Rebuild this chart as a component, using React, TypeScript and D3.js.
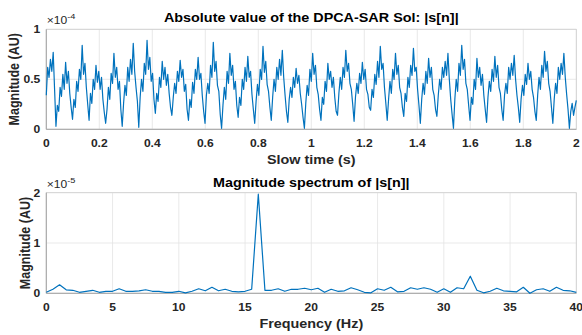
import React from "react";
import * as d3 from "d3";

// |s[n]| in units of 1e-4, 385 samples over 2 s
const signalValues: number[] = [
  0.34, 0.62, 0.52, 0.70, 0.58, 0.77, 0.40,
  0.03, 0.24, 0.18, 0.42, 0.33, 0.55, 0.40, 0.67, 0.46, 0.58, 0.36, 0.22,
  0.10, 0.30, 0.22, 0.48, 0.38, 0.60, 0.50, 0.84, 0.55, 0.66, 0.42, 0.25,
  0.09, 0.36, 0.26, 0.50, 0.40, 0.64, 0.47, 0.58, 0.40, 0.52, 0.30, 0.17,
  0.06, 0.20, 0.42, 0.30, 0.56, 0.46, 0.76, 0.52, 0.62, 0.40, 0.48, 0.20,
  0.03, 0.26, 0.44, 0.34, 0.62, 0.48, 0.70, 0.55, 0.86, 0.58, 0.42, 0.28,
  0.02, 0.32, 0.50, 0.38, 0.66, 0.55, 0.89, 0.60, 0.72, 0.48, 0.56, 0.30,
  0.16, 0.36, 0.28, 0.52, 0.42, 0.68, 0.50, 0.62, 0.44, 0.55, 0.36, 0.22,
  0.14, 0.32, 0.46, 0.36, 0.58, 0.48, 0.69, 0.52, 0.60, 0.38, 0.45, 0.20,
  0.09, 0.30, 0.22, 0.47, 0.36, 0.60, 0.50, 0.72, 0.50, 0.56, 0.34, 0.18,
  0.06, 0.34, 0.46, 0.36, 0.64, 0.52, 0.87, 0.58, 0.68, 0.44, 0.38, 0.15,
  0.01, 0.24, 0.42, 0.30, 0.58, 0.46, 0.76, 0.54, 0.64, 0.40, 0.48, 0.24,
  0.12, 0.32, 0.24, 0.50, 0.40, 0.62, 0.48, 0.73, 0.52, 0.58, 0.35, 0.20,
  0.06, 0.28, 0.45, 0.34, 0.60, 0.50, 0.83, 0.57, 0.68, 0.45, 0.38, 0.22,
  0.09, 0.32, 0.50, 0.38, 0.62, 0.50, 0.70, 0.54, 0.79, 0.52, 0.34, 0.18,
  0.07, 0.30, 0.42, 0.32, 0.52, 0.42, 0.61, 0.46, 0.54, 0.36, 0.25, 0.12,
  0.01, 0.26, 0.44, 0.34, 0.60, 0.48, 0.76, 0.55, 0.64, 0.42, 0.35, 0.20,
  0.09, 0.32, 0.25, 0.48, 0.38, 0.66, 0.50, 0.58, 0.42, 0.52, 0.32, 0.18,
  0.14, 0.36, 0.52, 0.40, 0.62, 0.52, 0.79, 0.58, 0.66, 0.46, 0.40, 0.25,
  0.08, 0.32, 0.46, 0.36, 0.56, 0.46, 0.67, 0.50, 0.60, 0.40, 0.35, 0.22,
  0.19, 0.40, 0.32, 0.55, 0.45, 0.68, 0.52, 0.83, 0.60, 0.66, 0.42, 0.26,
  0.09, 0.30, 0.48, 0.36, 0.60, 0.50, 0.76, 0.55, 0.64, 0.42, 0.36, 0.22,
  0.13, 0.36, 0.28, 0.52, 0.42, 0.64, 0.54, 0.81, 0.58, 0.62, 0.40, 0.24,
  0.06, 0.30, 0.46, 0.35, 0.58, 0.46, 0.71, 0.52, 0.62, 0.40, 0.34, 0.20,
  0.13, 0.34, 0.50, 0.40, 0.62, 0.52, 0.68, 0.54, 0.76, 0.50, 0.30, 0.15,
  0.01, 0.30, 0.50, 0.38, 0.66, 0.54, 0.84, 0.60, 0.70, 0.46, 0.40, 0.24,
  0.09, 0.32, 0.25, 0.50, 0.40, 0.71, 0.52, 0.62, 0.44, 0.55, 0.34, 0.20,
  0.07, 0.32, 0.48, 0.38, 0.60, 0.48, 0.73, 0.52, 0.64, 0.42, 0.36, 0.20,
  0.09, 0.34, 0.46, 0.36, 0.62, 0.50, 0.66, 0.54, 0.74, 0.50, 0.34, 0.22,
  0.07, 0.30, 0.44, 0.34, 0.55, 0.45, 0.66, 0.50, 0.58, 0.40, 0.32, 0.18,
  0.09, 0.34, 0.52, 0.40, 0.64, 0.52, 0.78, 0.58, 0.68, 0.46, 0.38, 0.22,
  0.06, 0.30, 0.46, 0.36, 0.62, 0.50, 0.66, 0.55, 0.76, 0.52, 0.35, 0.20,
  0.01, 0.18, 0.26, 0.14, 0.22, 0.29,
];
const signalDuration = 2;

// spectrum in units of 1e-5, every 0.5 Hz from 0 to 40 Hz
const spectrumValues: number[] = [
  0.02, 0.08, 0.17, 0.07, 0.06, 0.02, 0.04, 0.06, 0.02, 0.04,
  0.04, 0.09, 0.04, 0.04, 0.05, 0.07, 0.04, 0.04, 0.02, 0.02,
  0.04, 0.01, 0.04, 0.09, 0.05, 0.12, 0.05, 0.08, 0.04, 0.03,
  0.04, 0.08, 1.97, 0.06, 0.06, 0.09, 0.04, 0.08, 0.08, 0.10,
  0.07, 0.10, 0.02, 0.08, 0.04, 0.05, 0.11, 0.07, 0.02, 0.01,
  0.09, 0.06, 0.12, 0.03, 0.04, 0.11, 0.08, 0.11, 0.08, 0.02,
  0.09, 0.02, 0.11, 0.09, 0.34, 0.06, 0.01, 0.04, 0.10, 0.05,
  0.04, 0.03, 0.12, 0.00, 0.07, 0.09, 0.04, 0.12, 0.06, 0.05,
  0.02,
];
const freqStep = 0.5;

const timeTicks = [0, 0.2, 0.4, 0.6, 0.8, 1, 1.2, 1.4, 1.6, 1.8, 2];
const magTicks1 = [0, 0.5, 1];
const freqTicks = [0, 5, 10, 15, 20, 25, 30, 35, 40];
const magTicks2 = [0, 1, 2];

const W = 582;
const H = 335;
const left = 46.3;
const right = 576.3;
const SX = 1.15; // horizontal stretch of the text
const FONT = "'Liberation Sans', Arial, Helvetica, sans-serif";
const TXT = "#262626";
const BLUE = "#0072BD";
const GRID = "#e3e3e3";
const AX = "#a6a6a6";

function T(props: {
  x: number;
  y: number;
  size: number;
  anchor?: "start" | "middle" | "end";
  bold?: boolean;
  rotate?: boolean;
  fill?: string;
  children: React.ReactNode;
}) {
  const { x, y, size, anchor = "start", bold = true, rotate = false, fill = TXT, children } = props;
  return (
    <text
      transform={`translate(${x},${y}) scale(${SX},1)${rotate ? " rotate(-90)" : ""}`}
      textAnchor={anchor}
      fontSize={size}
      fontWeight={bold ? "bold" : "normal"}
      fill={fill}
      fontFamily={FONT}
    >
      {children}
    </text>
  );
}

function Panel(props: {
  top: number;
  bottom: number;
  xDomain: [number, number];
  yDomain: [number, number];
  xTicks: number[];
  yTicks: number[];
  data: [number, number][];
  title: string;
  titleOff: number;
  xLabel: string;
  exp: string;
  yLabelX: number;
}) {
  const { top, bottom, xDomain, yDomain, xTicks, yTicks, data, title, titleOff, xLabel, exp, yLabelX } = props;
  const x = d3.scaleLinear().domain(xDomain).range([left, right]);
  const y = d3.scaleLinear().domain(yDomain).range([bottom, top]);
  const line = d3
    .line<[number, number]>()
    .x((d) => x(d[0]))
    .y((d) => y(d[1]));
  const cx = (left + right) / 2;
  return (
    <g>
      {xTicks.map((t) => (
        <line key={"gx" + t} x1={x(t)} x2={x(t)} y1={top} y2={bottom} stroke={GRID} strokeWidth={0.8} />
      ))}
      {yTicks.map((t) => (
        <line key={"gy" + t} x1={left} x2={right} y1={y(t)} y2={y(t)} stroke={GRID} strokeWidth={0.8} />
      ))}
      <rect x={left} y={top} width={right - left} height={bottom - top} fill="none" stroke="#cfcfcf" strokeWidth={0.8} />
      <line x1={left} x2={left} y1={top} y2={bottom} stroke={AX} strokeWidth={1} />
      <line x1={left} x2={right} y1={bottom} y2={bottom} stroke={AX} strokeWidth={1} />
      <path d={line(data) || ""} fill="none" stroke={BLUE} strokeWidth={1.2} strokeLinejoin="round" />
      {xTicks.map((t) => (
        <T key={"tx" + t} x={x(t)} y={bottom + 18} size={10.5} anchor="middle">
          {String(t)}
        </T>
      ))}
      {yTicks.map((t) => (
        <T key={"ty" + t} x={left - 6} y={y(t) + 3.8} size={10.5} anchor="end">
          {String(t)}
        </T>
      ))}
      <T x={left + 0.5} y={top - 5} size={10.5} bold={false}>
        ×10
        <tspan dy={-5} fontSize={8}>{exp}</tspan>
      </T>
      <T x={cx} y={top - titleOff} size={12.5} anchor="middle" fill="#000">
        {title}
      </T>
      <T x={cx} y={bottom + 35} size={12.5} anchor="middle">
        {xLabel}
      </T>
      <T x={yLabelX} y={(top + bottom) / 2} size={12.5} anchor="middle" rotate>
        Magnitude (AU)
      </T>
    </g>
  );
}

export default function App() {
  const dt = signalDuration / (signalValues.length - 1);
  const sig: [number, number][] = signalValues.map((v, i) => [i * dt, v]);
  const spec: [number, number][] = spectrumValues.map((v, i) => [i * freqStep, v]);
  return (
    <svg width={W} height={H} style={{ position: "absolute", left: 0, top: 0, background: "#fff" }}>
      <rect width={W} height={H} fill="#fff" />
      <Panel
        top={29.3}
        bottom={129.3}
        xDomain={[0, 2]}
        yDomain={[0, 1]}
        xTicks={timeTicks}
        yTicks={magTicks1}
        data={sig}
        title="Absolute value of the DPCA-SAR Sol: |s[n]|"
        titleOff={7.6}
        xLabel="Slow time (s)"
        exp="-4"
        yLabelX={19}
      />
      <Panel
        top={192.7}
        bottom={293.3}
        xDomain={[0, 40]}
        yDomain={[0, 2]}
        xTicks={freqTicks}
        yTicks={magTicks2}
        data={spec}
        title="Magnitude spectrum of |s[n]|"
        titleOff={6}
        xLabel="Frequency (Hz)"
        exp="-5"
        yLabelX={29.5}
      />
    </svg>
  );
}
